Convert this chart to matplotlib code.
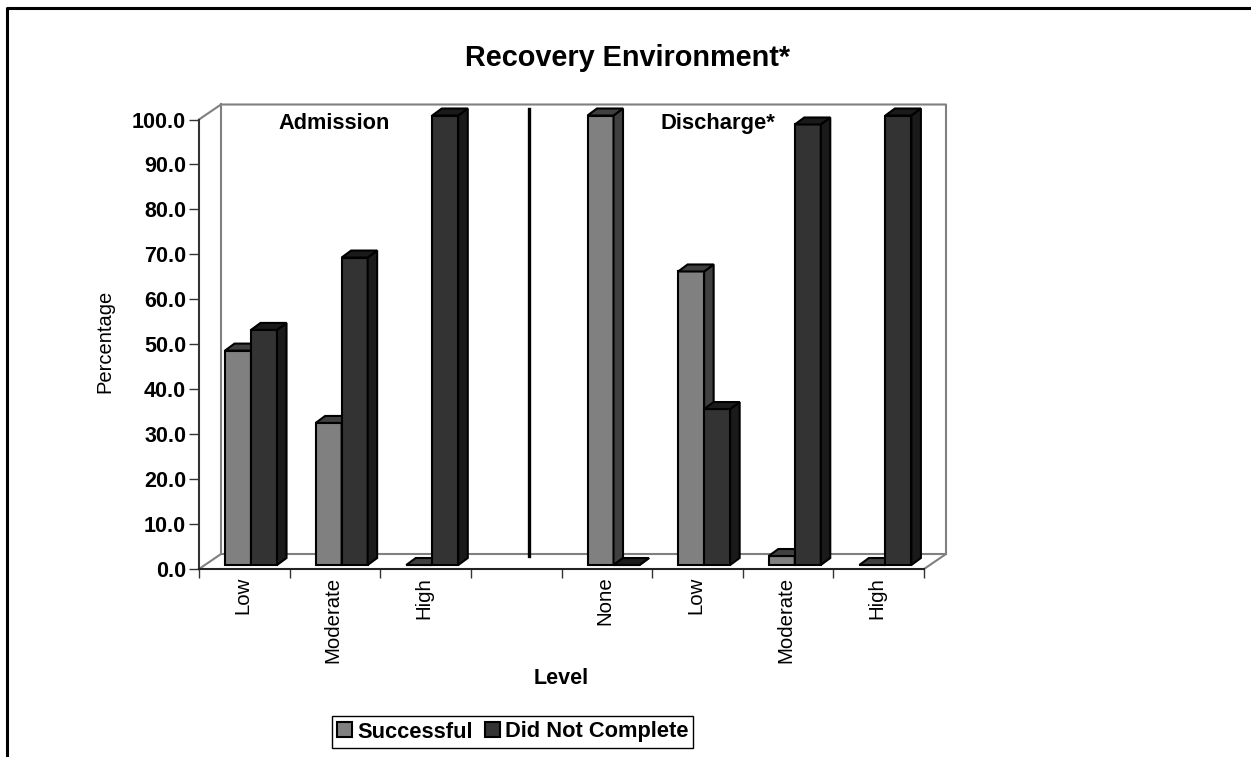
import matplotlib
matplotlib.use("Agg")
import matplotlib.pyplot as plt
from matplotlib.lines import Line2D
from matplotlib.patches import Patch, Polygon
from matplotlib.transforms import ScaledTranslation

plt.rcParams['font.family'] = ['Liberation Sans', 'DejaVu Sans']

categories = ["Low", "Moderate", "High", "", "None", "Low", "Moderate", "High"]
successful = [47.7, 31.6, 0.0, None, 100.0, 65.3, 2.0, 0.0]
not_complete = [52.3, 68.4, 100.0, None, 0.0, 34.7, 98.0, 100.0]
y_ticks = [0, 10, 20, 30, 40, 50, 60, 70, 80, 90, 100]

W, H = 1251, 757
cat_px = 90.6
val_px = 4.495
wall_dx = 22 / cat_px
wall_dy = 15 / val_px
bar_dx = 9.5 / cat_px
bar_dy = 7 / val_px
bar_w = 26 / cat_px
bar_start = 26 / cat_px
base = 4 / val_px


def draw_bar(ax, x, value, front, side, top):
    # front face through bar(), the fake 3d faces on top of it
    ax.bar(x, value, bar_w, bottom=base, align="edge", color=front,
           edgecolor="black", linewidth=1.5, zorder=5, clip_on=False)
    y1 = base + value
    ax.add_patch(Polygon([(x + bar_w, base), (x + bar_w + bar_dx, base + bar_dy),
                          (x + bar_w + bar_dx, y1 + bar_dy), (x + bar_w, y1)],
                         facecolor=side, edgecolor="black", linewidth=1.5, zorder=5, clip_on=False))
    ax.add_patch(Polygon([(x, y1), (x + bar_dx, y1 + bar_dy),
                          (x + bar_w + bar_dx, y1 + bar_dy), (x + bar_w, y1)],
                         facecolor=top, edgecolor="black", linewidth=1.5, zorder=5, clip_on=False))


fig = plt.figure(figsize=(W / 100, H / 100), dpi=100)
ax = fig.add_axes([199 / W, 1 - 569 / H, 725 / W, 449.5 / H])
ax.set_xlim(0, len(categories))
ax.set_ylim(0, 100)

# back wall and floor
grey = "#808080"
n = len(categories)
ax.plot([0, wall_dx, n + wall_dx, n + wall_dx, n],
        [100, 100 + wall_dy, 100 + wall_dy, wall_dy, 0], color=grey, lw=1.5, clip_on=False, zorder=1)
ax.plot([0, wall_dx, n + wall_dx], [0, wall_dy, wall_dy], color=grey, lw=1.5, clip_on=False, zorder=1)
ax.plot([wall_dx, wall_dx], [wall_dy, 100 + wall_dy], color=grey, lw=1.5, clip_on=False, zorder=1)

for i in range(n):
    if successful[i] is None:
        continue
    draw_bar(ax, i + bar_start, successful[i], "#808080", "#404040", "#404040")
    draw_bar(ax, i + bar_start + bar_w, not_complete[i], "#333333", "#1a1a1a", "#1a1a1a")

# divider between admission and discharge
ax.plot([3.645, 3.645], [2.8, 102.4], color="black", lw=2.4, clip_on=False, zorder=6)

ax.set_yticks(y_ticks)
ax.set_yticklabels(["{:.1f}".format(v) for v in y_ticks], fontsize=15.5, fontweight="bold")
for label in ax.get_yticklabels():
    label.set_transform(label.get_transform() + ScaledTranslation(0, 1 / 100, fig.dpi_scale_trans))
ax.set_xticks(range(n + 1))
ax.set_xticklabels([])
for i, name in enumerate(categories):
    ax.text(i + 0.48, -1.7, name, rotation=90, ha="center", va="top", fontsize=14.7)

ax.tick_params(axis="y", length=7.2, width=1, color="#333333", pad=2)
ax.tick_params(axis="x", length=6.5, width=1, color="#333333")
for s in ["top", "right"]:
    ax.spines[s].set_visible(False)
ax.spines["left"].set_color("#333333")
ax.spines["left"].set_linewidth(1.5)
ax.spines["bottom"].set_color("#222222")
ax.spines["bottom"].set_linewidth(1.5)
ax.patch.set_alpha(0)

ax.text(1.496, 99.0, "Admission", ha="center", va="center", fontsize=15.7, fontweight="bold", zorder=7)
ax.text(5.72, 99.0, "Discharge*", ha="center", va="center", fontsize=15.8, fontweight="bold", zorder=7)

fig.text(628 / W, 1 - 58 / H, "Recovery Environment*", ha="center", va="center", fontsize=20.8, fontweight="bold")
fig.text(104.5 / W, 1 - 341 / H, "Percentage", ha="center", va="center", rotation=90, fontsize=14.5)
fig.text(561 / W, 1 - 678 / H, "Level", ha="center", va="center", fontsize=15.5, fontweight="bold")

handles = [Patch(facecolor="#808080", edgecolor="black", linewidth=1.5, label="Successful"),
           Patch(facecolor="#333333", edgecolor="black", linewidth=1.5, label="Did Not Complete")]
leg = fig.legend(handles=handles, loc="center", bbox_to_anchor=(512.5 / W, 1 - 732 / H), ncol=2,
                 prop={"size": 15.75, "weight": "bold"}, frameon=True, fancybox=False, framealpha=1,
                 edgecolor="black", handlelength=0.69, handleheight=0.69, handletextpad=0.23,
                 columnspacing=0.55, borderpad=0.23, borderaxespad=0)
leg.get_frame().set_linewidth(1)

# page frame, open at the right and at the bottom
fig.add_artist(Line2D([7 / W, 7 / W, 1], [0, 1 - 7.8 / H, 1 - 7.8 / H], color="black", lw=2.2))

plt.savefig("out.png", dpi=100)
plt.close()
